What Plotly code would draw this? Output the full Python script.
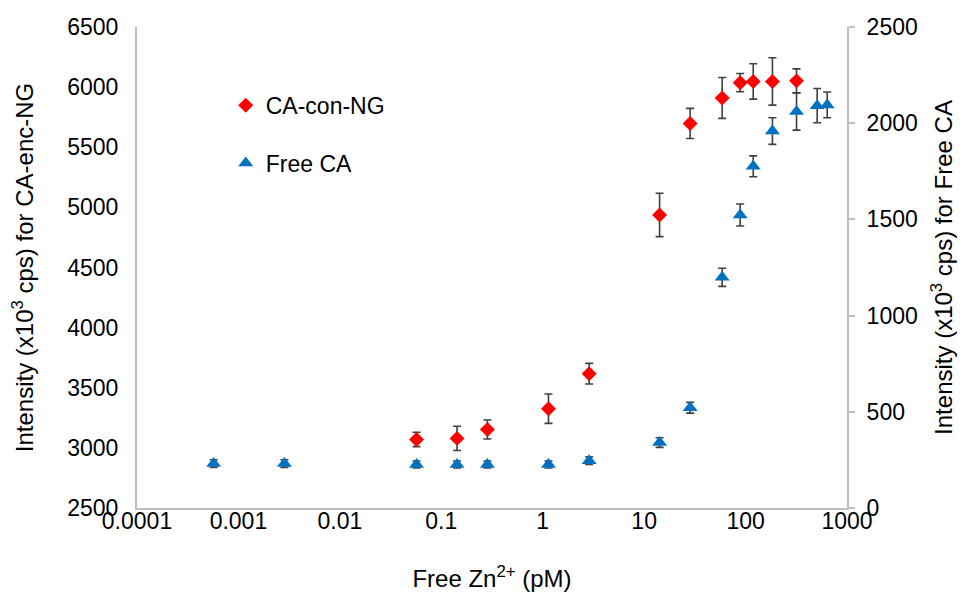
import plotly.graph_objects as go

# ---- data ----
red_name = "CA-con-NG"
red_x = [0.057, 0.143, 0.285, 1.14, 2.87, 14.2, 28.4, 58.8, 88.5, 119, 184, 318]
red_y = [3070, 3079, 3153, 3326, 3617, 4937, 5698, 5910, 6037, 6047, 6047, 6052]
red_err = [60, 101, 79, 122, 86, 180, 125, 170, 76, 147, 197, 100]

blue_name = "Free CA"
blue_x = [0.00057, 0.00284, 0.057, 0.143, 0.285, 1.14, 2.87, 14.2, 28.4,
          58.8, 88.5, 119, 184, 318, 508, 638]
blue_y = [231, 231, 226, 226, 226, 226, 246, 340, 521,
          1199, 1523, 1776, 1959, 2061, 2091, 2095]
blue_err = [20, 20, 18, 18, 18, 18, 20, 25, 28,
            47, 57, 54, 69, 97, 89, 67]

x_tickvals = [0.0001, 0.001, 0.01, 0.1, 1, 10, 100, 1000]
x_ticktext = ["0.0001", "0.001", "0.01", "0.1", "1", "10", "100", "1000"]
y1_tickvals = [2500, 3000, 3500, 4000, 4500, 5000, 5500, 6000, 6500]
y2_tickvals = [0, 500, 1000, 1500, 2000, 2500]

FONT = "Liberation Sans, Arial, sans-serif"
AXIS_COLOR = "#BFBFBF"
ERR_COLOR = "#404040"

fig = go.Figure()

fig.add_trace(go.Scatter(
    x=red_x, y=red_y, name=red_name, mode="markers",
    marker=dict(symbol="diamond", size=11.5, color="#FF0000"),
    error_y=dict(type="data", array=red_err, visible=True,
                 color=ERR_COLOR, thickness=1.6, width=4),
    legendgroup="a", yaxis="y",
))
fig.add_trace(go.Scatter(
    x=blue_x, y=blue_y, name=blue_name, mode="markers",
    marker=dict(symbol="triangle-up", size=13, color="#0070C0"),
    error_y=dict(type="data", array=blue_err, visible=True,
                 color=ERR_COLOR, thickness=1.6, width=4),
    legendgroup="b", yaxis="y2",
))

fig.update_layout(
    width=949, height=584,
    margin=dict(l=129, r=110, t=19, b=84, autoexpand=False),
    paper_bgcolor="white", plot_bgcolor="white",
    font=dict(family=FONT, size=23, color="#000000"),
    showlegend=True,
    legend=dict(x=0.125, y=0.882, xanchor="left", yanchor="top",
                bgcolor="rgba(0,0,0,0)", borderwidth=0,
                font=dict(size=23), tracegroupgap=25),
    xaxis=dict(
        type="log", range=[-4, 3],
        tickvals=x_tickvals, ticktext=x_ticktext,
        showgrid=False, zeroline=False,
        showline=True, linecolor=AXIS_COLOR, linewidth=2,
        ticks="", ticklen=0, ticklabelstandoff=-9, tickfont=dict(size=23),
        title=dict(text="Free Zn<sup>2+</sup> (pM)", font=dict(size=24), standoff=40),
        automargin=False,
    ),
    yaxis=dict(
        range=[2500, 6500], tickvals=y1_tickvals,
        showgrid=False, zeroline=False,
        showline=True, linecolor=AXIS_COLOR, linewidth=2,
        ticks="", ticklabelstandoff=12, tickfont=dict(size=23),
        title=dict(text="Intensity (x10<sup>3</sup> cps) for CA-enc-NG",
                   font=dict(size=24), standoff=27),
        automargin=False,
    ),
    yaxis2=dict(
        range=[0, 2500], tickvals=y2_tickvals,
        overlaying="y", side="right",
        showgrid=False, zeroline=False,
        showline=True, linecolor=AXIS_COLOR, linewidth=2,
        ticks="outside", ticklen=6, tickcolor=AXIS_COLOR, tickwidth=2,
        ticklabelstandoff=7, tickfont=dict(size=23),
        title=dict(text="Intensity (x10<sup>3</sup> cps) for Free CA",
                   font=dict(size=24), standoff=24),
        automargin=False,
    ),
)

fig.write_html("out.html")
